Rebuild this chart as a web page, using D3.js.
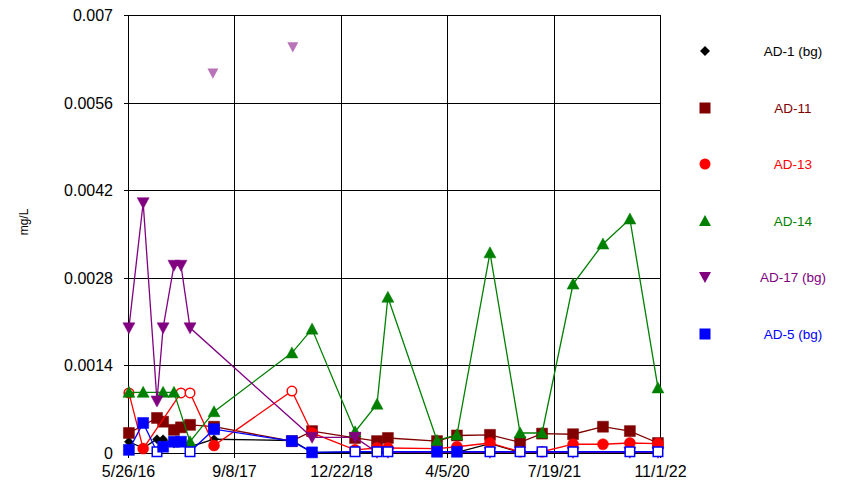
<!DOCTYPE html>
<html><head><meta charset="utf-8">
<script src="https://cdn.jsdelivr.net/npm/d3@7/dist/d3.min.js"></script>
<style>body{margin:0;background:#fff}svg{display:block;font-family:"Liberation Sans",Arial,sans-serif}</style>
</head><body><svg id="c" width="850" height="489"></svg>
<script>
// ---- data ----
const sampleDates = ["2016-05-30","2016-08-01","2016-10-01","2016-10-28","2016-12-15","2017-01-15","2017-02-24","2017-06-10","2018-05-20","2018-08-17","2019-02-23","2019-05-31","2019-07-18","2020-02-20","2020-05-18","2020-10-11","2021-02-21","2021-05-29","2021-10-13","2022-02-22","2022-06-21","2022-10-23"];
const ad1  = [0.00018,0.00008,0.00022,0.00022,0.00015,null,0.0001,0.00022,0.0002,0.00001,0.00001,0.00001,0.00001,0.00001,0.00001,0.00015,0.00001,0.00001,0.00001,null,0.00001,0.00001];
const ad11 = [0.00032,null,0.00056,0.0005,0.00037,0.00041,0.00045,0.00042,0.00019,0.00035,0.00024,0.00019,0.00024,0.00019,0.00028,0.00029,0.00017,0.00031,0.0003,0.00042,0.00035,0.00016];
const ad13 = [0.00096,0.00007,null,null,null,0.00096,0.00096,0.00012,0.00099,0.00032,0.00005,0.00008,0.00008,0.00007,0.0001,0.00016,0.00002,0.00002,0.00014,0.00014,0.00016,0.00015];
const ad13Open = [1,0,0,0,0,1,1,0,1,0,0,0,0,0,0,0,0,0,0,0,0,0];
const ad14 = [0.00097,0.00097,null,0.00097,0.00097,null,0.00018,0.00066,0.0016,0.00198,0.00034,0.00078,0.00249,0.0002,0.00029,0.0032,0.00032,0.00032,0.0027,0.00334,0.00374,0.00104];
const ad17 = [0.002,0.004,0.00083,0.002,0.003,0.003,0.002,null,null,0.00025,0.00025,0.00001,0.00001,null,null,0.00001,null,null,0.00001,null,0.00001,0.00001];
const ad17FadedDates = ["2017-06-05","2018-05-24"];
const ad17Faded = [0.00607,0.00649];
const ad5  = [0.00005,0.00048,0.00002,0.0001,0.00018,0.00018,0.00002,0.00038,0.00019,0.00001,0.00002,0.00002,0.00002,0.00002,0.00002,0.00002,0.00002,0.00002,0.00002,null,0.00002,0.00002];
const ad5Open = [0,0,1,0,0,0,1,0,0,0,1,1,1,0,0,1,1,1,1,0,1,1];
const seriesNames = ["AD-1 (bg)","AD-11","AD-13","AD-14","AD-17 (bg)","AD-5 (bg)"];
const xTickLabels = ["5/26/16","9/8/17","12/22/18","4/5/20","7/19/21","11/1/22"];
const yTicks = [0,0.0014,0.0028,0.0042,0.0056,0.007];

// ---- setup ----
const svg = d3.select("#c");
const parse = d3.timeParse("%Y-%m-%d");
const parseTick = d3.timeParse("%m/%d/%y");
const xTickDates = xTickLabels.map(parseTick);
const L=128, R=660, T=15, B=453;
const x = d3.scaleTime().domain([xTickDates[0], xTickDates[xTickDates.length-1]]).range([L,R]);
const y = d3.scaleLinear().domain([0,0.007]).range([B,T]);
const dates = sampleDates.map(parse);

// grid
const g = svg.append("g");
yTicks.forEach(v=>{ const yy=Math.round(y(v))+0.5;
  g.append("line").attr("x1",L-4).attr("x2",R).attr("y1",yy).attr("y2",yy).attr("stroke","#000").attr("stroke-width",1);
  g.append("text").attr("x",113).attr("y",yy).attr("dy","0.35em").attr("text-anchor","end").attr("font-size",16).text(v===0?"0":String(v));
});
xTickDates.forEach((d,i)=>{ const xx=Math.round(x(d))+0.5;
  g.append("line").attr("x1",xx).attr("x2",xx).attr("y1",T).attr("y2",B+5).attr("stroke","#000").attr("stroke-width",1);
  g.append("text").attr("x",xx).attr("y",477).attr("text-anchor","middle").attr("font-size",16).text(xTickLabels[i]);
});
svg.append("text").attr("transform","translate(28,222) rotate(-90)").attr("text-anchor","middle").attr("font-size",12).text("mg/L");

// symbols
function sym(type, size){
  if(type==="diamond") return `M0,${-size/2}L${size/2},0L0,${size/2}L${-size/2},0Z`;
  if(type==="square") return `M${-size/2},${-size/2}h${size}v${size}h${-size}Z`;
  if(type==="circle") { const r=size/2; return `M${r},0A${r},${r} 0 1,1 ${-r},0A${r},${r} 0 1,1 ${r},0Z`; }
  if(type==="up") return `M0,${-size*0.5}L${size*0.5},${size*0.42}L${-size*0.5},${size*0.42}Z`;
  if(type==="down") return `M0,${size*0.5}L${size*0.5},${-size*0.42}L${-size*0.5},${-size*0.42}Z`;
}
const series = [
  {vals:ad1, open:null, color:"#000000", type:"diamond", size:9},
  {vals:ad11, open:null, color:"#800000", type:"square", size:11},
  {vals:ad13, open:ad13Open, color:"#FF0000", type:"circle", size:11},
  {vals:ad14, open:null, color:"#008000", type:"up", size:12},
  {vals:ad17, open:null, color:"#800080", type:"down", size:12},
  {vals:ad5, open:ad5Open, color:"#0000FF", type:"square", size:11}
];
const line = d3.line().defined(d=>d.v!=null).x(d=>x(d.d)).y(d=>y(d.v));

series.forEach((s,si)=>{
  const pts = s.vals.map((v,i)=>({d:dates[i],v,open:s.open?s.open[i]:0})).filter(p=>p.v!=null);
  svg.append("path").datum(pts).attr("d",line).attr("fill","none").attr("stroke",s.color).attr("stroke-width",1.3);
  svg.append("g").selectAll("path").data(pts).join("path")
    .attr("transform",p=>`translate(${x(p.d)},${y(p.v)})`)
    .attr("d",p=>sym(s.type, p.open? s.size-1.5 : s.size))
    .attr("fill",p=>p.open?"#fff":s.color)
    .attr("stroke",s.color).attr("stroke-width",p=>p.open?1.5:0.5);
  if(si===4){
    svg.append("g").selectAll("path").data(ad17Faded.map((v,i)=>({d:parse(ad17FadedDates[i]),v}))).join("path")
      .attr("transform",p=>`translate(${x(p.d)},${y(p.v)})`)
      .attr("d",sym("down",11)).attr("fill","#800080").attr("fill-opacity",0.55);
  }
});

// legend
const legY = [51,108,164,221,277,334];
series.forEach((s,i)=>{
  svg.append("path").attr("transform",`translate(705,${legY[i]})`).attr("d",sym(s.type, s.type==="diamond"?10:s.size)).attr("fill",s.color);
  svg.append("text").attr("x",793).attr("y",legY[i]).attr("dy","0.35em").attr("text-anchor","middle").attr("font-size",13.5).attr("fill",s.color).text(seriesNames[i]);
});
</script></body></html>
